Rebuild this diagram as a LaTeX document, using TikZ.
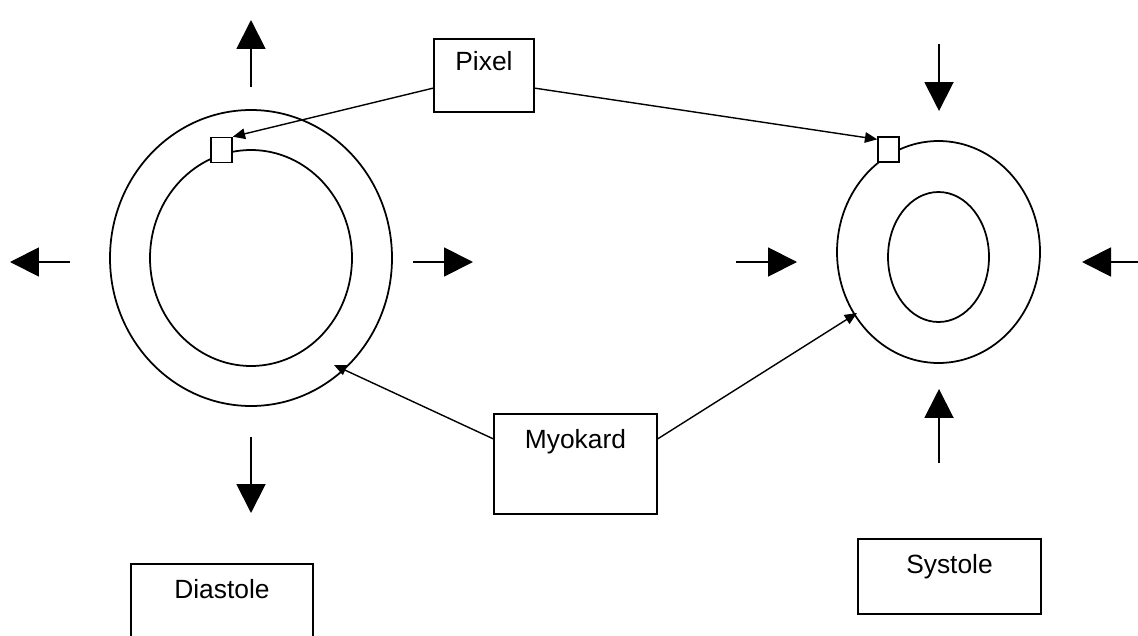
\documentclass[tikz,border=0pt]{standalone}
\usepackage{fontspec}
\setmainfont{Liberation Sans}
\usetikzlibrary{arrows.meta}

\begin{document}
\begin{tikzpicture}[x=0.02cm,y=-0.02cm,
    box/.style={draw,line width=1.1pt,inner sep=0pt,anchor=north west,
      text height=0.7cm,font=\fontsize{15}{18}\selectfont},
    pixbox/.style={draw,fill=white,line width=0.9pt,inner sep=0pt,
      minimum width=0.42cm,minimum height=0.5cm},
    wall/.style={line width=1pt},
    conn/.style={line width=0.8pt,-{Triangle[length=7pt,width=6pt]}},
    move/.style={line width=1.1pt,-{Triangle[length=16.5pt,width=16.5pt]}}]
  \clip (0,0) rectangle (1138,635);
  \fill[white] (0,0) rectangle (1138,635);
  % heart walls
  \draw[wall] (251,258) ellipse [x radius=141,y radius=148];
  \draw[wall] (251,258) ellipse [x radius=101,y radius=108];
  \draw[wall] (938.5,252) ellipse [x radius=101.5,y radius=111];
  \draw[wall] (938.5,257) ellipse [x radius=50.5,y radius=65];
  \coordinate (myoL) at (334,365);
  \coordinate (myoR) at (857,313);
  % pixels on the wall
  \node[pixbox] (pixL) at (221.5,150) {};
  \node[pixbox] (pixR) at (888.5,149.5) {};
  % labels
  \node[box,minimum width=2cm,text height=0.64cm,text depth=0.82cm] (pixel) at (433,38) {Pixel};
  \node[box,minimum width=3.26cm,text depth=1.3cm] (myo) at (493,413) {Myokard};
  \node[box,minimum width=3.64cm,text depth=1.2cm] (dia) at (130,563) {Diastole};
  \node[box,minimum width=3.66cm,text depth=0.8cm] (sys) at (857,538) {Systole};
  \draw[conn] (pixel.194) -- (pixL.north east);
  \draw[conn] (pixel.346) -- (pixR.138);
  \draw[conn] (myo.163) -- (myoL);
  \draw[conn] (myo.17) -- (myoR);
  % motion of the wall
  \foreach \a/\b/\c/\d in {251/87/251/20, 70/262/10/262, 413/262/473/262,
      251/437/251/513, 939/44/939/111, 736/262/797/262,
      1138/262/1082/262, 939/463/939/389}
    \draw[move] (\a,\b) -- (\c,\d);
\end{tikzpicture}
\end{document}
